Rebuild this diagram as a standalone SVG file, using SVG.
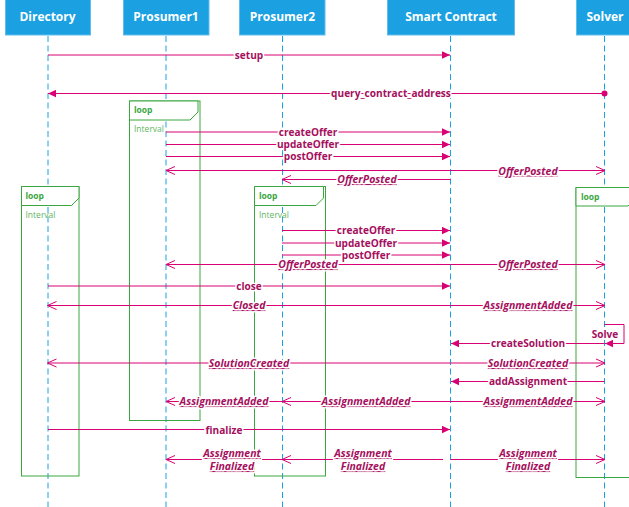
<svg xmlns="http://www.w3.org/2000/svg" width="629" height="507" viewBox="0 0 629 507">
<defs>
<style>
text{font-family:"Open Sans","Noto Sans","Liberation Sans",sans-serif}
.head{fill:#1ba1e2;stroke:#62bdea;stroke-width:1}
.ht{fill:#fff;font-size:12px;font-weight:700;text-anchor:middle}
.life{stroke:#1ba1e2;stroke-width:1;stroke-dasharray:6 3.500;fill:none}
.fr{fill:none;stroke:#3aa63f;stroke-width:1}
.tab{fill:#fff;stroke:#3aa63f;stroke-width:1}
.lt{fill:#3aa63f;font-size:8.500px;font-weight:700}
.li{fill:#5fb664;font-size:8.500px}
.m{stroke:#d80073;stroke-width:1;fill:none}
.f{marker-end:url(#fa)}
.o{marker-end:url(#oa)}
.l{fill:#a50f5e;font-size:10.100px;font-weight:700;text-anchor:middle;stroke:#fff;stroke-width:3px;paint-order:stroke;stroke-linejoin:round}
.e{font-size:10.500px;font-style:italic;text-decoration:underline}
</style>
<marker id="fa" markerUnits="userSpaceOnUse" markerWidth="8" markerHeight="8" refX="8" refY="4" orient="auto"><path d="M0 0.300L8 4L0 7.700Z" fill="#d80073"/></marker>
<marker id="oa" markerUnits="userSpaceOnUse" markerWidth="10" markerHeight="10" refX="9" refY="5" orient="auto"><path d="M0 1L9 5L0 9" fill="none" stroke="#d80073" stroke-width="1"/></marker>
</defs>
<rect width="629" height="507" fill="#fff"/>
<g id="directory"><rect class="head" x="5.500" y="-1" width="85" height="36"/><line class="life" x1="48" y1="36" x2="48" y2="507"/><text class="ht" x="47.500" y="21">Directory</text></g>
<g id="prosumer1"><rect class="head" x="123.500" y="-1" width="85.500" height="36"/><line class="life" x1="166" y1="36" x2="166" y2="507"/><text class="ht" x="166" y="21">Prosumer1</text></g>
<g id="prosumer2"><rect class="head" x="239.500" y="-1" width="85.500" height="36"/><line class="life" x1="282.500" y1="36" x2="282.500" y2="507"/><text class="ht" x="282.500" y="21">Prosumer2</text></g>
<g id="smart-contract"><rect class="head" x="387.500" y="-1" width="127" height="36"/><line class="life" x1="450.500" y1="36" x2="450.500" y2="507"/><text class="ht" x="451" y="21">Smart Contract</text></g>
<g id="solver"><rect class="head" x="576.500" y="-1" width="56" height="36"/><line class="life" x1="604.500" y1="36" x2="604.500" y2="507"/><text class="ht" x="605" y="21">Solver</text></g>
<g id="loop-directory"><rect class="fr" x="21.500" y="186.500" width="57.500" height="289.500"/><path class="tab" d="M21.500 186.500H79V198L71.500 205.500H21.500Z"/><text class="lt" x="25.500" y="199">loop</text><text class="li" x="25.500" y="218">Interval</text></g>
<g id="loop-prosumer1"><rect class="fr" x="129.500" y="101" width="70.500" height="319.500"/><path class="tab" d="M129.500 101H198V112L190 120H129.500Z"/><text class="lt" x="134" y="113">loop</text><text class="li" x="134" y="132">Interval</text></g>
<g id="loop-prosumer2"><rect class="fr" x="254.500" y="186.500" width="71" height="289.500"/><path class="tab" d="M254.500 186.500H323.500V198L316 205.500H254.500Z"/><text class="lt" x="259" y="199">loop</text><text class="li" x="259" y="218">Interval</text></g>
<g id="loop-solver"><rect class="fr" x="576" y="187.500" width="60" height="290"/><path class="tab" d="M576 187.500H636V198L628 206H576Z"/><text class="lt" x="581" y="200">loop</text></g>
<g id="connectors">
<line class="m f" x1="48" y1="55" x2="450" y2="55"/><text class="l" x="249" y="59">setup</text>
<line class="m f" x1="604.500" y1="93.500" x2="48" y2="93.500"/><circle cx="604.500" cy="93.500" r="3" fill="#d80073"/><text class="l" x="391" y="97">query_contract_address</text>
<line class="m f" x1="166" y1="132" x2="450" y2="132"/><text class="l" x="308" y="135.500">createOffer</text>
<line class="m f" x1="166" y1="144.500" x2="450" y2="144.500"/><text class="l" x="308" y="148">updateOffer</text>
<line class="m f" x1="166" y1="156.500" x2="450" y2="156.500"/><text class="l" x="308" y="160">postOffer</text>
<line class="m o" x1="450.500" y1="170.500" x2="166" y2="170.500"/><line class="m o" x1="450.500" y1="170.500" x2="605" y2="170.500"/><text class="l e" x="528" y="174.500">OfferPosted</text>
<line class="m o" x1="450.500" y1="179.500" x2="282" y2="179.500"/><text class="l e" x="367" y="183">OfferPosted</text>
<line class="m f" x1="282" y1="230.500" x2="450" y2="230.500"/><text class="l" x="366" y="234">createOffer</text>
<line class="m f" x1="282" y1="243" x2="450" y2="243"/><text class="l" x="366" y="247">updateOffer</text>
<line class="m f" x1="282" y1="255" x2="450" y2="255"/><text class="l" x="366" y="259">postOffer</text>
<line class="m o" x1="450.500" y1="264.500" x2="166" y2="264.500"/><line class="m o" x1="450.500" y1="264.500" x2="605" y2="264.500"/><text class="l e" x="308" y="268">OfferPosted</text><text class="l e" x="528" y="268">OfferPosted</text>
<line class="m f" x1="48" y1="286" x2="450" y2="286"/><text class="l" x="249" y="290">close</text>
<line class="m o" x1="450.500" y1="305.500" x2="47.500" y2="305.500"/><line class="m o" x1="450.500" y1="305.500" x2="605" y2="305.500"/><text class="l e" x="249" y="309">Closed</text><text class="l e" x="528" y="309">AssignmentAdded</text>
<path class="m f" d="M604.500 324.500H624V343.500H605"/><text class="l" x="605" y="338">Solve</text>
<line class="m f" x1="604.500" y1="343.500" x2="451" y2="343.500"/><text class="l" x="528" y="347">createSolution</text>
<line class="m o" x1="450.500" y1="363" x2="47.500" y2="363"/><line class="m o" x1="450.500" y1="363" x2="605" y2="363"/><text class="l e" x="249" y="367">SolutionCreated</text><text class="l e" x="528" y="367">SolutionCreated</text>
<line class="m f" x1="604.500" y1="381.500" x2="451" y2="381.500"/><text class="l" x="528" y="385">addAssignment</text>
<line class="m o" x1="450.500" y1="401.500" x2="166" y2="401.500"/><line class="m o" x1="450.500" y1="401.500" x2="282" y2="401.500"/><line class="m o" x1="450.500" y1="401.500" x2="605" y2="401.500"/><text class="l e" x="224" y="405">AssignmentAdded</text><text class="l e" x="366" y="405">AssignmentAdded</text><text class="l e" x="528" y="405">AssignmentAdded</text>
<line class="m f" x1="48" y1="429.500" x2="450" y2="429.500"/><text class="l" x="224" y="434">finalize</text>
<line class="m o" x1="443" y1="459.500" x2="166" y2="459.500"/><line class="m o" x1="443" y1="459.500" x2="282" y2="459.500"/><line class="m o" x1="450.500" y1="459.500" x2="605" y2="459.500"/>
<text class="l e" x="232" y="457">Assignment</text><text class="l e" x="232" y="470">Finalized</text>
<text class="l e" x="363" y="457">Assignment</text><text class="l e" x="363" y="470">Finalized</text>
<text class="l e" x="528" y="457">Assignment</text><text class="l e" x="528" y="470">Finalized</text>
</g>
</svg>
